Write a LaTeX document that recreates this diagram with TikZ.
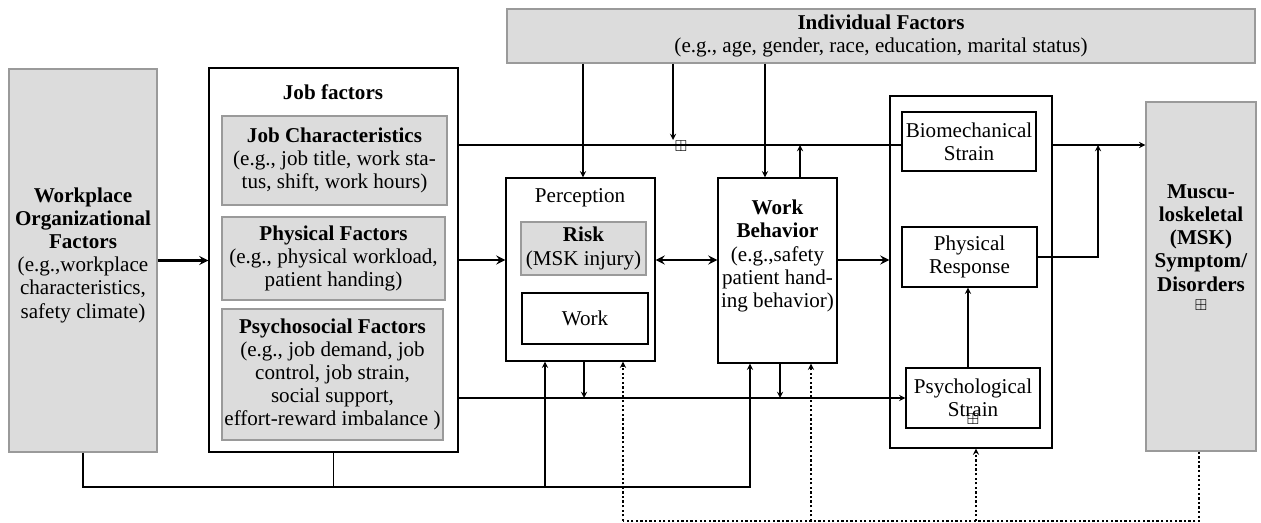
\documentclass[tikz,border=0pt]{standalone}
\usepackage{fontspec}
\setmainfont{Liberation Serif}
\usepackage{amssymb}
\usetikzlibrary{arrows, positioning, calc}
\definecolor{boxfill}{HTML}{DCDCDC}
\definecolor{boxedge}{HTML}{9A9A9A}

\tikzset{
  grybox/.style={draw=boxedge, fill=boxfill, line width=0.8pt, inner sep=0pt, align=center},
  whtbox/.style={draw=black, fill=white, line width=0.7pt, inner sep=0pt, align=center},
  txt/.style={align=center, inner sep=0pt},
  plusbox/.style={inner sep=0pt, font=\fontsize{9}{9}\selectfont},
  mainflow/.style={->, line width=1.3pt},
  fdback/.style={line width=0.6pt, dash pattern=on 1.3pt off 1.3pt},
}

\begin{document}
\begin{tikzpicture}[x=0.02cm, y=-0.02cm, >=stealth, line width=0.6pt,
    every node/.style={font=\fontsize{12}{13.2}\selectfont}]
    \useasboundingbox (0,0) rectangle (1261,523);

    % left column
    \node[grybox, minimum width=2.96cm, minimum height=7.66cm] (wof) at (83,260.5) {};
    \node[txt] (woftxt) at (83,255) {\textbf{Workplace}\\\textbf{Organizational}\\\textbf{Factors}\\(e.g.,workplace\\characteristics,\\safety climate)};

    \node[whtbox, minimum width=4.98cm, minimum height=7.68cm] (jobf) at (333.5,260) {};
    \node[txt] (jobftl) at (333,92) {\textbf{Job factors}};
    \node[grybox, minimum width=4.5cm, minimum height=1.78cm] (jobc) at (334.5,160.5) {\textbf{Job Characteristics}\\(e.g., job title, work sta-\\tus, shift, work hours)};
    \node[grybox, minimum width=4.46cm, minimum height=1.66cm] (physf) at (333.5,258.5) {\textbf{Physical Factors}\\(e.g., physical workload,\\patient handing)};
    \node[grybox, minimum width=4.42cm, minimum height=2.62cm] (psyf) at (332.5,374.5) {\textbf{Psychosocial Factors}\\(e.g., job demand, job\\control, job strain,\\social support,\\effort-reward imbalance )};

    % middle
    \node[grybox, minimum width=14.96cm, minimum height=1.08cm] (indiv) at (881,36) {\textbf{Individual Factors}\\(e.g., age, gender, race, education, marital status)};

    \node[whtbox, minimum width=2.98cm, minimum height=3.66cm] (perc) at (580.5,269.5) {};
    \node[txt] (perctl) at (580,198) {Perception};
    \node[grybox, minimum width=2.5cm, minimum height=1.06cm] (risk) at (583.5,248.5) {\textbf{Risk}\\(MSK injury)};
    \node[whtbox, minimum width=2.52cm, minimum height=1.02cm] (work) at (585,318.5) {Work};

    \node[whtbox, minimum width=2.38cm, minimum height=3.7cm] (wbeh) at (777.5,270.5) {};
    \node[txt] (wbehtxt) at (777.5,256) {\textbf{Work}\\\textbf{Behavior}\\(e.g.,safety\\patient hand-\\ing behavior)};

    % right
    \node[whtbox, minimum width=3.24cm, minimum height=7.04cm] (resp) at (971,272) {};
    \node[whtbox, minimum width=2.68cm, minimum height=1.18cm] (bio) at (969,141.5) {Biomechanical\\Strain};
    \node[whtbox, minimum width=2.7cm, minimum height=1.2cm] (physr) at (969.5,257) {Physical\\Response};
    \node[whtbox, minimum width=2.68cm, minimum height=1.2cm] (psys) at (973,398) {Psychological\\Strain};
    \node[plusbox] (psysplus) at (973,419) {$\boxplus$};

    \node[grybox, minimum width=2.2cm, minimum height=6.98cm] (msk) at (1201,276.5) {};
    \node[txt] (msktxt) at (1201,238) {\textbf{Muscu-}\\\textbf{loskeletal}\\\textbf{(MSK)}\\\textbf{Symptom/}\\\textbf{Disorders}};
    \node[plusbox] (mskplus) at (1201,305) {$\boxplus$};

    % main flow
    \draw[mainflow] (wof.east) -- (wof.east -| jobf.west);
    \draw[mainflow] (jobf.east) -- (jobf.east -| perc.west);
    \draw[mainflow, <->] (perc.east |- jobf.east) -- (wbeh.west |- jobf.east);
    \draw[mainflow] (wbeh.east |- jobf.east) -- (resp.west |- jobf.east);

    % job characteristics line
    \draw (jobf.east |- 0,145) -- (bio.west |- 0,145);
    \draw[->] (resp.east |- 0,145) -- (msk.west |- 0,145);
    \draw[->] (physr.east) -| (1098,145);
    \draw[->] (psys.north -| 968,0) -- (physr.south -| 968,0);

    % psychosocial line
    \draw[->] (jobf.east |- psys.west) -- (psys.west);
    \draw[->] (perc.south -| 584,0) -- (584,398);
    \draw[->] (wbeh.south -| 780,0) -- (780,398);

    % individual factors
    \draw[->] (indiv.south -| 583,0) -- (perc.north -| 583,0);
    \draw[->] (indiv.south -| 765,0) -- (wbeh.north -| 765,0);
    \draw[->] (indiv.south -| 673,0) -- (673,140);
    \node[plusbox] (indplus) at (681,146) {$\boxplus$};
    \draw[->] (wbeh.north -| 800,0) -- (800,145);

    % organizational line
    \draw[->] (wof.south) |- (750,487) -- (wbeh.south -| 750,0);
    \draw (jobf.south) -- (jobf.south |- 0,487);
    \draw[->] (545,487) -- (perc.south -| 545,0);

    % feedback
    \draw[fdback] (msk.south -| 1199,0) -- (1199,521) -- (623,521);
    \draw[fdback, ->] (623,521) -- (perc.south -| 623,0);
    \draw[fdback, ->] (811,521) -- (wbeh.south -| 811,0);
    \draw[fdback, ->] (976,521) -- (resp.south -| 976,0);
\end{tikzpicture}
\end{document}
